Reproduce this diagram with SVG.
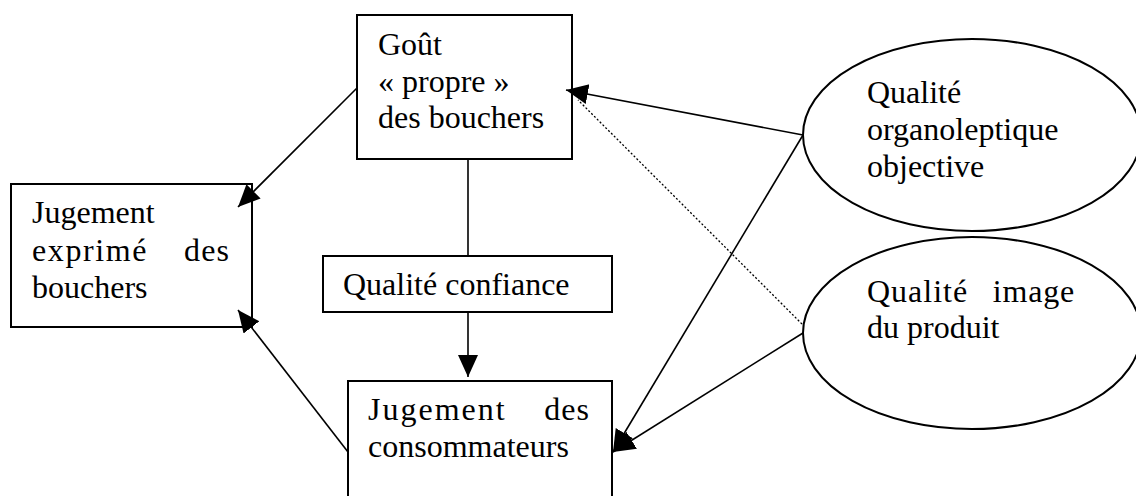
<svg xmlns="http://www.w3.org/2000/svg" width="1136" height="496" viewBox="0 0 1136 496">
<style>
.box{fill:#fff;stroke:#000;stroke-width:2}
.ell{fill:#fff;stroke:#000;stroke-width:2}
.t{font-family:"Liberation Serif","Times New Roman",serif;font-size:32px;fill:#000}
.ln{fill:none;stroke:#000;stroke-width:1.6}
.dot{fill:none;stroke:#000;stroke-width:1.3;stroke-dasharray:2 2}
</style>
<defs>
<marker id="ah" markerUnits="userSpaceOnUse" markerWidth="24" markerHeight="22" refX="22" refY="10" orient="auto">
<path d="M0,0 L22,10 L0,20 Z" fill="#000"/>
</marker>
</defs>
<g id="gout">
<rect class="box" x="357" y="15" width="215" height="144"/>
<text class="t" x="378" y="55">Goût</text>
<text class="t" x="378" y="92">« propre »</text>
<text class="t" x="378" y="128">des bouchers</text>
</g>
<g id="jugement-exprime">
<rect class="box" x="11" y="184" width="241" height="143"/>
<text class="t" x="32" y="223">Jugement</text>
<text class="t" x="32" y="261" letter-spacing="1.6">exprimé</text>
<text class="t" x="230" y="261" text-anchor="end" letter-spacing="1.1">des</text>
<text class="t" x="32" y="298">bouchers</text>
</g>
<g id="qualite-confiance">
<rect class="box" x="323" y="256" width="289" height="56"/>
<text class="t" x="343" y="295">Qualité confiance</text>
</g>
<g id="jugement-consommateurs">
<rect class="box" x="348" y="381" width="264" height="130"/>
<text class="t" x="368" y="420" letter-spacing="2">Jugement</text>
<text class="t" x="590" y="420" text-anchor="end" letter-spacing="1">des</text>
<text class="t" x="368" y="457">consommateurs</text>
</g>
<g id="qualite-organoleptique">
<ellipse class="ell" cx="972" cy="135" rx="169" ry="96"/>
<text class="t" x="867" y="103">Qualité</text>
<text class="t" x="867" y="140">organoleptique</text>
<text class="t" x="867" y="177">objective</text>
</g>
<g id="qualite-image">
<ellipse class="ell" cx="972" cy="333" rx="169" ry="96"/>
<text class="t" x="867" y="302" letter-spacing="1">Qualité</text>
<text class="t" x="1075" y="302" text-anchor="end" letter-spacing="0.8">image</text>
<text class="t" x="867" y="338">du produit</text>
</g>
<g id="connectors">
<line class="ln" x1="468" y1="160" x2="468" y2="255"/>
<line class="ln" x1="468" y1="313" x2="468" y2="377" marker-end="url(#ah)"/>
<line class="ln" x1="357" y1="88" x2="238" y2="207" marker-end="url(#ah)"/>
<line class="ln" x1="348" y1="452" x2="238" y2="310" marker-end="url(#ah)"/>
<line class="dot" x1="802" y1="324" x2="578" y2="100"/>
<line class="ln" x1="803" y1="135" x2="566" y2="90" marker-end="url(#ah)"/>
<line class="ln" x1="803" y1="135" x2="613" y2="452" marker-end="url(#ah)"/>
<line class="ln" x1="803" y1="333" x2="613" y2="452" marker-end="url(#ah)"/>
</g>
</svg>
